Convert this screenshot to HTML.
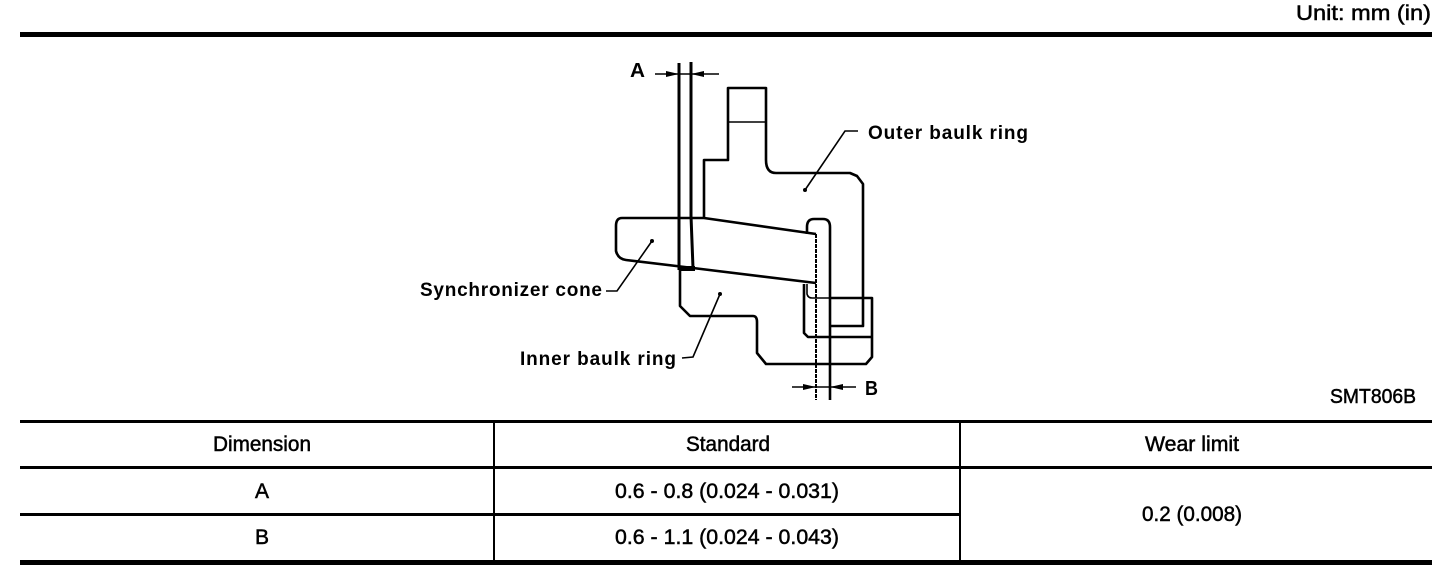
<!DOCTYPE html>
<html><head><meta charset="utf-8"><style>
html,body{margin:0;padding:0;background:#fff;width:1456px;height:580px;overflow:hidden}
svg{display:block}
text{font-family:"Liberation Sans",sans-serif;fill:#000;font-size:21px}
.l{font-weight:bold;font-size:19px}
.t{stroke:#000;stroke-width:.5px}
.d{fill:none;stroke:#000;stroke-width:2.6;stroke-linejoin:round}
.h{fill:none;stroke:#000;stroke-width:1.6}
</style></head><body>
<svg width="1456" height="580" viewBox="0 0 1456 580" xmlns="http://www.w3.org/2000/svg">
<rect width="1456" height="580" fill="#fff"/>
<!-- rules -->
<rect x="20" y="32" width="1412" height="5"/>
<rect x="20" y="420" width="1412" height="3"/>
<rect x="20" y="466" width="1412" height="3"/>
<rect x="20" y="513" width="940" height="3"/>
<rect x="20" y="560" width="1412" height="5"/>
<rect x="493" y="421" width="2" height="141"/>
<rect x="959" y="421" width="2" height="141"/>
<!-- top / table text -->
<text class="t" x="1296" y="20" textLength="135" lengthAdjust="spacingAndGlyphs">Unit: mm (in)</text>
<text class="t" x="1330" y="403" textLength="86" lengthAdjust="spacingAndGlyphs" style="font-size:20px">SMT806B</text>
<text class="t" x="213" y="451" textLength="98" lengthAdjust="spacingAndGlyphs">Dimension</text>
<text class="t" x="686" y="451" textLength="84" lengthAdjust="spacingAndGlyphs">Standard</text>
<text class="t" x="1145" y="451" textLength="94" lengthAdjust="spacingAndGlyphs">Wear limit</text>
<text class="t" x="255" y="498" textLength="14" lengthAdjust="spacingAndGlyphs">A</text>
<text class="t" x="255" y="544" textLength="14" lengthAdjust="spacingAndGlyphs">B</text>
<text class="t" x="615" y="498" textLength="224" lengthAdjust="spacingAndGlyphs">0.6 - 0.8 (0.024 - 0.031)</text>
<text class="t" x="615" y="544" textLength="224" lengthAdjust="spacingAndGlyphs">0.6 - 1.1 (0.024 - 0.043)</text>
<text class="t" x="1142" y="521" textLength="100" lengthAdjust="spacingAndGlyphs">0.2 (0.008)</text>
<!-- diagram labels -->
<text class="l" x="630" y="77" style="font-size:20px" textLength="15" lengthAdjust="spacingAndGlyphs">A</text>
<text class="l" x="865" y="395" style="font-size:20px" textLength="13" lengthAdjust="spacingAndGlyphs">B</text>
<text class="l" x="868" y="139" textLength="160" lengthAdjust="spacing">Outer baulk ring</text>
<text class="l" x="420" y="296" textLength="182" lengthAdjust="spacing">Synchronizer cone</text>
<text class="l" x="520" y="365" textLength="156" lengthAdjust="spacing">Inner baulk ring</text>
<!-- vertical dimension lines -->
<path class="d" style="stroke-width:3" d="M679 63V270M691 62V216Q692 240 693 268"/>
<path d="M680 266H695V271H680Z"/>
<!-- A dimension -->
<path class="h" d="M655 74H719"/>
<path d="M666 71L679 74L666 77Z M691 74L704 71V77Z"/>
<!-- outer ring -->
<path class="d" d="M704 218V160H728V88H766V160Q766 173 776 173H850L857 176L863 184V326H830"/>
<path class="d" style="stroke-width:1.6" d="M728 122H766"/>
<!-- cone -->
<path class="d" d="M691 218H622Q616 218 616 226V251Q618 259 626 260L693 268L816 283"/>
<path class="d" d="M691 218H704L816 234"/>
<!-- nose -->
<path class="d" d="M807 234V227Q807 219 814 219H823Q830 219 830 227V400"/>
<path class="h" style="stroke-width:2" stroke-dasharray="4 1" d="M816 234V400"/>
<!-- inner ring -->
<path class="d" d="M680 270V306L690 316H753Q757 316 757 322V353L766 364H866L872 357V298H830"/>
<path class="d" d="M804 284V333L808 337H872"/>
<path class="d" style="stroke-width:1.6" d="M807 284V294Q808 298 812 298H830"/>
<!-- B dimension -->
<path class="h" d="M792 387H856"/>
<path d="M803 384L816 387L803 390Z M830 387L843 384V390Z"/>
<!-- leaders -->
<path class="h" d="M805 190L845 131H858"/>
<circle cx="805" cy="190" r="2"/>
<path class="h" d="M652 241L617 291H606"/>
<circle cx="652" cy="241" r="2"/>
<path class="h" d="M720 294L693 357L682 358"/>
<circle cx="720" cy="294" r="2"/>
</svg>
</body></html>
